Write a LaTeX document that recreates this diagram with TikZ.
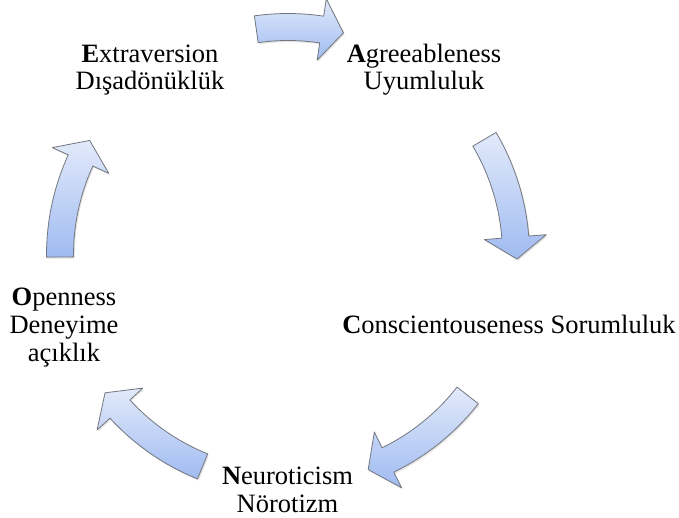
\documentclass[tikz,border=0pt]{standalone}
\usepackage{fontspec}
\setmainfont{Liberation Serif}
\usetikzlibrary{calc,shadows}
\definecolor{arrowlight}{RGB}{226,234,251}
\definecolor{arrowdark}{RGB}{160,187,241}
\definecolor{arrowline}{RGB}{115,119,128}
\tikzset{
  arrowbody/.style={draw=arrowline, line width=0.8pt, line join=round,
    top color=arrowlight, bottom color=arrowdark,
    drop shadow={opacity=0.22, shadow xshift=1.2pt, shadow yshift=-1.6pt}},
  lbl/.style={anchor=base, inner sep=0pt, font=\fontsize{26.5}{28}\selectfont}
}
% #1 tail angle, #2 head-base angle (clockwise)
\newcommand{\cycarrow}[2]{%
  \path[arrowbody] ($(C)+(#1:241.5)$) arc[start angle=#1, end angle=#2, radius=241.5]
    -- ($(C)+(#2:259)$)
    -- ($(C)+(#2:228)+(#2-90:22)$)
    -- ($(C)+(#2:197)$)
    -- ($(C)+(#2:214.5)$) arc[start angle=#2, end angle=#1, radius=214.5]
    -- cycle;}
\begin{document}
\begin{tikzpicture}[x=1pt,y=1pt]
\useasboundingbox (0,0) rectangle (679,-517);
\fill[white] (0,0) rectangle (679,-517);
\coordinate (C) at (288,-255);
% arrows
\cycarrow{98}{81.5}
\cycarrow{30.5}{4.5}
\cycarrow{-38}{-64}
\cycarrow{-112}{-137.5}
\cycarrow{180.5}{155.5}
% labels
\node[lbl] (ext1) at (150,-62) {\textbf{E}xtraversion};
\node[lbl] (ext2) at (150,-89.5) {Dışadönüklük};
\node[lbl] (agr1) at (424,-62) {\textbf{A}greeableness};
\node[lbl] (agr2) at (424,-89.5) {Uyumluluk};
\node[lbl] (con1) at (509,-333) {\textbf{C}onscientouseness Sorumluluk};
\node[lbl] (neu1) at (287.5,-484) {\textbf{N}euroticism};
\node[lbl] (neu2) at (287.5,-512) {Nörotizm};
\node[lbl] (ope1) at (64,-305) {\textbf{O}penness};
\node[lbl] (ope2) at (64,-333) {Deneyime};
\node[lbl] (ope3) at (64,-361) {açıklık};
\end{tikzpicture}
\end{document}
